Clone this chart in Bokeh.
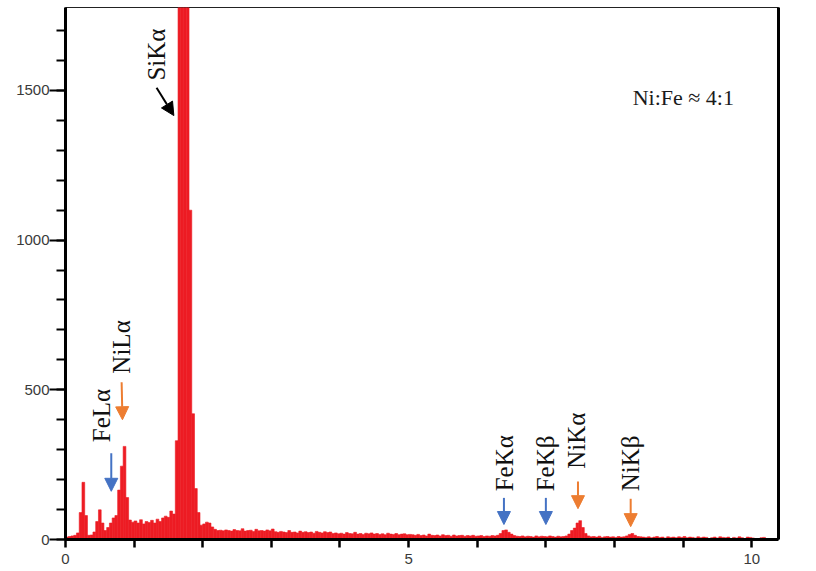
import math

from bokeh.plotting import figure
from bokeh.models import (Range1d, LinearAxis, FixedTicker, SingleIntervalTicker,
                          Arrow, NormalHead, Label, ColumnDataSource)
from bokeh.core.properties import value
from bokeh.embed import file_html
from bokeh.resources import INLINE

# ---------------------------------------------------------------- data
# EDS spectrum, counts per 0.04 keV channel starting at 0 keV
CHANNEL_KEV = 0.04
counts = (
    # 0.00 - 1.96 keV : C, O, Fe-L, Ni-L, Si-K
    [8, 10, 12, 14, 22, 90, 191, 80, 14, 15, 25, 60, 99, 55, 30, 40,
     55, 72, 80, 165, 245, 311, 140, 65,
     58, 62, 55, 66, 52, 60, 57, 64, 55, 68, 60, 72, 78, 74, 95, 85,
     330, 2400, 4000, 4500, 2600, 1100, 420, 170, 90]
    # 1.96 - 2.24 keV
    + [48, 52, 58, 55, 42, 34, 30]
    # 2.24 - 3.04 keV
    + [31, 29, 32, 30, 28, 33, 30, 29, 36, 28, 30, 31, 27, 34, 29, 30, 28, 32, 29, 35]
    # 3.04 - 3.88 keV
    + [26, 24, 27, 25, 23, 30, 24, 25, 22, 28, 24, 26, 23, 25, 21, 27, 24, 22, 26, 23, 25]
    # 3.88 - 5.04 keV
    + [20, 22, 19, 21, 18, 23, 20, 19, 24, 18, 20, 17, 21, 19, 22, 18, 20, 17, 19, 16,
       21, 18, 17, 20, 16, 18, 19, 16, 17]
    # 5.04 - 6.24 keV
    + [16, 14, 17, 13, 15, 12, 18, 14, 13, 15, 12, 16, 13, 14, 11, 15, 12, 13, 14, 11,
       13, 12, 14, 11, 12, 13, 10, 12, 11, 13]
    # 6.24 - 6.60 keV : Fe-Ka
    + [12, 14, 20, 30, 32, 24, 18, 13, 11]
    # 6.60 - 7.32 keV
    + [10, 12, 9, 11, 10, 8, 12, 9, 11, 10, 9, 12, 10, 8, 11, 9, 10, 12]
    # 7.32 - 7.64 keV : Ni-Ka
    + [18, 30, 38, 55, 63, 40, 20, 12]
    # 7.64 - 8.16 keV
    + [9, 10, 8, 11, 7, 9, 10, 8, 9, 7, 10, 8, 9]
    # 8.16 - 8.40 keV : Ni-Kb
    + [12, 17, 20, 14, 10, 9]
    # 8.40 - 10.20 keV
    + [8, 7, 9, 6, 8, 10, 7, 8, 5, 9, 7, 8, 6, 9, 7, 10, 6, 8, 7, 5,
       9, 6, 8, 7, 0, 6, 8, 5, 9, 7, 6, 8, 0, 7, 5, 9, 6, 0, 8, 7,
       5, 0, 0, 6, 7]
)
energy = [(i + 0.5) * CHANNEL_KEV for i in range(len(counts))]

# peak labels: (text, keV, counts at the start of the text)
peak_names = ["SiK\u03b1", "FeL\u03b1", "NiL\u03b1", "FeK\u03b1", "FeK\u03b2", "NiK\u03b1", "NiK\u03b2"]
peak_label_kev = [1.323, 0.522, 0.813, 6.390, 6.994, 7.446, 8.239]
peak_label_cts = [1533, 325, 554, 161, 161, 236, 161]

# marker arrows for the peaks
arrow_x0 = [1.327, 0.667, 0.818, 6.389, 7.000, 7.468, 8.236]
arrow_y0 = [1509, 288, 525, 139, 139, 194, 136]
arrow_x1 = [1.579, 0.667, 0.830, 6.389, 7.000, 7.468, 8.236]
arrow_y1 = [1416, 161, 400, 50, 50, 103, 43]
arrow_colors = ["#000000", "#4472C4", "#ED7D31", "#4472C4", "#4472C4", "#ED7D31", "#ED7D31"]

x_ticks = list(range(0, 11))
x_tick_labels = {0: "0", 5: "5", 10: "10"}

# ---------------------------------------------------------------- figure
p = figure(width=816, height=571, output_backend="svg", toolbar_location=None,
           title=None, x_range=Range1d(0, 10.39), y_range=Range1d(0, 1777),
           min_border_left=65, min_border_right=38, min_border_top=7,
           min_border_bottom=32, x_axis_type=None, y_axis_type=None)
p.background_fill_color = "white"
p.border_fill_color = "white"
p.grid.visible = False
p.outline_line_color = "#222222"
p.outline_line_width = 1

TICK_FONT = "Liberation Sans"

# bottom energy axis
xa = LinearAxis(ticker=FixedTicker(ticks=x_ticks))
xa.major_label_overrides = {t: x_tick_labels.get(t, "") for t in x_ticks}
xa.axis_line_width = 3
xa.axis_line_color = "black"
xa.major_tick_in = 0
xa.major_tick_out = 8
xa.major_tick_line_width = 2.5
xa.major_tick_line_color = "black"
xa.minor_tick_line_color = None
xa.major_label_standoff = 6
xa.major_label_text_font = TICK_FONT
xa.major_label_text_font_size = "15px"
xa.major_label_text_color = "#3a3a3a"
p.add_layout(xa, "below")

# left counts axis
ya = LinearAxis(ticker=SingleIntervalTicker(interval=500, num_minor_ticks=5))
ya.axis_line_width = 3
ya.axis_line_color = "black"
ya.major_tick_in = 0
ya.major_tick_out = 16
ya.major_tick_line_width = 2
ya.major_tick_line_color = "black"
ya.minor_tick_in = 0
ya.minor_tick_out = 9
ya.minor_tick_line_width = 2
ya.minor_tick_line_color = "black"
ya.major_label_standoff = 0
ya.major_label_text_font = TICK_FONT
ya.major_label_text_font_size = "15px"
ya.major_label_text_color = "#3a3a3a"
p.add_layout(ya, "left")

# right frame edge
ra = LinearAxis(ticker=FixedTicker(ticks=[]))
ra.axis_line_width = 3
ra.axis_line_color = "black"
ra.major_tick_line_color = None
ra.minor_tick_line_color = None
ra.major_label_text_font_size = "0px"
p.add_layout(ra, "right")

# spectrum
spec = ColumnDataSource(dict(energy=energy, counts=counts))
p.vbar(x="energy", top="counts", width=CHANNEL_KEV, bottom=0, source=spec,
       fill_color="#ED1C24", line_color="#ED1C24", line_width=0.6)

# peak labels (vertical)
lab = ColumnDataSource(dict(x=peak_label_kev, y=peak_label_cts, text=peak_names))
p.text(x="x", y="y", text="text", source=lab, angle=math.pi / 2,
       text_font=value("Liberation Serif"), text_font_size="25px",
       text_color="#111111", text_align="left", text_baseline="alphabetic")

# arrows
for x0, y0, x1, y1, c in zip(arrow_x0, arrow_y0, arrow_x1, arrow_y1, arrow_colors):
    p.add_layout(Arrow(end=NormalHead(size=13, fill_color=c, line_color=c, line_width=1),
                       x_start=x0, y_start=y0, x_end=x1, y_end=y1,
                       line_color=c, line_width=2))

# composition note
p.add_layout(Label(x=8.265, y=1476, text="Ni:Fe \u2248 4:1",
                   text_font="Liberation Serif", text_font_size="22px",
                   text_color="#1a1a1a", text_baseline="alphabetic"))

# axis unit
p.add_layout(Label(x=10.50, y=37, text="keV", text_font=TICK_FONT,
                   text_font_size="15px", text_color="#3a3a3a",
                   text_baseline="middle"))

open("out.html", "w").write(file_html(p, INLINE))
